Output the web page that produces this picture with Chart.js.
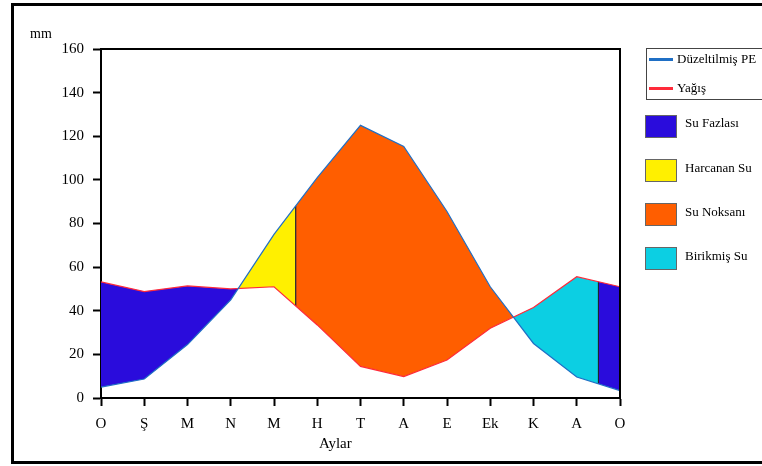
<!DOCTYPE html>
<html>
<head>
<meta charset="utf-8">
<script src="https://cdn.jsdelivr.net/npm/chart.js@4"></script>
<style>
body{margin:0;background:#fff;}
#wrap{position:relative;width:762px;height:466px;overflow:hidden;font-family:"Liberation Serif","Times New Roman",serif;background:#fff;}
#frame{position:absolute;left:11px;top:3px;width:800px;height:455px;border:3px solid #000;}
#c{position:absolute;left:0;top:0;}
.t{position:absolute;color:#000;white-space:nowrap;line-height:16px;}
.lg{font-size:13px;}
.sw{position:absolute;left:645px;width:30px;height:21px;border:1px solid #666;}
.ln{position:absolute;left:649px;width:24px;height:3px;}
#lbox{position:absolute;left:646px;top:48px;width:140px;height:50px;border:1px solid #444;}
</style>
</head>
<body>
<div id="wrap">
  <div id="frame"></div>
  <canvas id="c" width="762" height="466"></canvas>
  <div class="t" style="left:30px;top:26px;font-size:14px;">mm</div>
  <div class="t" style="left:319px;top:435px;font-size:15px;">Aylar</div>
  <div id="lbox"></div>
  <div class="ln" style="top:58px;background:#1f6fc5;"></div>
  <div class="t lg" style="left:677px;top:51px;">Düzeltilmiş PE</div>
  <div class="ln" style="top:87px;background:#ff2a3a;"></div>
  <div class="t lg" style="left:677px;top:80px;">Yağış</div>
  <div class="sw" style="top:115px;background:#2a0cdc;"></div>
  <div class="t lg" style="left:685px;top:115px;">Su Fazlası</div>
  <div class="sw" style="top:159px;background:#fff000;"></div>
  <div class="t lg" style="left:685px;top:160px;">Harcanan Su</div>
  <div class="sw" style="top:203px;background:#ff5e00;"></div>
  <div class="t lg" style="left:685px;top:204px;">Su Noksanı</div>
  <div class="sw" style="top:247px;background:#0ccfe3;"></div>
  <div class="t lg" style="left:685px;top:248px;">Birikmiş Su</div>
</div>
<script>
// ---- data ----
const months = ['O','Ş','M','N','M','H','T','A','E','Ek','K','A','O'];
const pe     = [5, 8.7, 24.5, 45, 75, 101, 125, 115.3, 85.5, 51, 25, 9.6, 3.4];   // Düzeltilmiş PE
const precip = [53.2, 48.8, 51.4, 50, 51, 33.5, 14.5, 9.8, 17.4, 32, 41.5, 55.6, 51]; // Yağış
const usedEnd = 4.5;     // Harcanan Su -> Su Noksanı boundary (month position)
const storedEnd = 11.5;  // Birikmiş Su -> Su Fazlası boundary (month position)
const yMin = 0, yMax = 160, yStep = 20;

const C_BLUE = '#2a0cdc', C_YEL = '#fff000', C_ORA = '#ff5e00', C_CYAN = '#0ccfe3';
const C_PE = '#1f6fc5', C_PR = '#ff2a3a';

// position along the drawn polyline
function valAt(arr, x){
  const i = Math.min(Math.floor(x), arr.length - 2);
  const t = x - i;
  return arr[i] + (arr[i+1] - arr[i]) * t;
}
// where the two drawn polylines cross
function crossings(){
  const r = [];
  for (let i = 0; i < pe.length - 1; i++){
    const d0 = precip[i] - pe[i], d1 = precip[i+1] - pe[i+1];
    if (d0 * d1 < 0) r.push(i + d0 / (d0 - d1));
  }
  return r;
}
function seg(arr, a, b){
  const pts = [{x:a, y:valAt(arr, a)}];
  for (let i = Math.ceil(a); i <= Math.floor(b); i++){
    if (i > a && i < b) pts.push({x:i, y:arr[i]});
  }
  pts.push({x:b, y:valAt(arr, b)});
  return pts;
}
const cr = crossings();
const regions = [
  {a:0, b:cr[0], c:C_BLUE},
  {a:cr[0], b:usedEnd, c:C_YEL},
  {a:usedEnd, b:cr[1], c:C_ORA},
  {a:cr[1], b:storedEnd, c:C_CYAN},
  {a:storedEnd, b:12, c:C_BLUE}
];

const base = {pointRadius:0, pointHoverRadius:0, tension:0};
const datasets = [
  Object.assign({label:'Düzeltilmiş PE', data: pe.map((v,i)=>({x:i,y:v})), borderColor:C_PE, borderWidth:1.2, fill:false}, base),
  Object.assign({label:'Yağış', data: precip.map((v,i)=>({x:i,y:v})), borderColor:C_PR, borderWidth:1.2, fill:false}, base),
  Object.assign({label:'b1', data:[{x:usedEnd,y:valAt(pe,usedEnd)},{x:usedEnd,y:valAt(precip,usedEnd)}], borderColor:'#333', borderWidth:1, fill:false}, base),
  Object.assign({label:'b2', data:[{x:storedEnd,y:valAt(pe,storedEnd)},{x:storedEnd,y:valAt(precip,storedEnd)}], borderColor:'#111', borderWidth:1, fill:false}, base)
];
regions.forEach(r=>{
  datasets.push(Object.assign({label:'lo', data:seg(pe, r.a, r.b), borderWidth:0, borderColor:'rgba(0,0,0,0)', fill:false}, base));
  datasets.push(Object.assign({label:'hi', data:seg(precip, r.a, r.b), borderWidth:0, borderColor:'rgba(0,0,0,0)', backgroundColor:r.c, fill:'-1'}, base));
});

const boxPlugin = {
  id:'box',
  afterDatasetsDraw(chart){
    const {ctx, chartArea:a} = chart;
    ctx.save();
    ctx.strokeStyle = '#000'; ctx.lineWidth = 2;
    ctx.beginPath();
    ctx.moveTo(a.left, a.top); ctx.lineTo(a.right, a.top); ctx.lineTo(a.right, a.bottom);
    ctx.stroke();
    ctx.restore();
  }
};

const font = {family:'"Liberation Serif", serif', size:15};
new Chart(document.getElementById('c'), {
  type:'line',
  data:{datasets},
  plugins:[boxPlugin],
  options:{
    responsive:false, animation:false,
    layout:{padding:{left:0, top:49, right:142, bottom:0}},
    plugins:{legend:{display:false}, tooltip:{enabled:false}},
    scales:{
      x:{type:'linear', min:0, max:12,
        ticks:{stepSize:1, autoSkip:false, maxRotation:0, color:'#000', font, padding:9,
          callback:v=>months[v] !== undefined ? months[v] : ''},
        grid:{drawOnChartArea:false, tickLength:8, tickWidth:2, tickColor:'#000'},
        border:{color:'#000', width:2},
        afterFit(s){ s.height = 68; }
      },
      y:{min:yMin, max:yMax,
        ticks:{stepSize:yStep, color:'#000', font, padding:9},
        grid:{drawOnChartArea:false, tickLength:8, tickWidth:2, tickColor:'#000'},
        border:{color:'#000', width:2},
        afterFit(s){ s.width = 101; }
      }
    }
  }
});
</script>
</body>
</html>
